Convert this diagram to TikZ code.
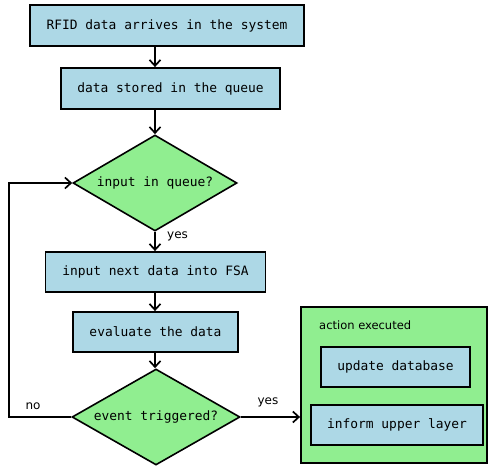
\documentclass[tikz,border=0pt]{standalone}
\usepackage{fontspec}
\setmonofont{DejaVu Sans Mono}
\setsansfont{DejaVu Sans}
\usetikzlibrary{shapes.geometric,arrows.meta}
\definecolor{stepblue}{RGB}{173,216,230}
\definecolor{decgreen}{RGB}{144,238,144}
\tikzset{
  stepbox/.style={draw=black, line width=1.8pt, fill=stepblue, inner sep=0pt,
    font=\ttfamily\fontsize{12.9}{14}\selectfont},
  decision/.style={draw=black, line width=1.6pt, fill=decgreen, shape=diamond,
    aspect=1.7, inner sep=0pt, font=\ttfamily\fontsize{12.9}{14}\selectfont},
  flow/.style={line width=1.7pt, -{Straight Barb[length=6pt,width=11pt,line width=1.7pt]}},
  lbl/.style={font=\sffamily\fontsize{12}{14}\selectfont, inner sep=0pt}
}
\begin{document}
\begin{tikzpicture}[x=1pt,y=-1pt]
  \useasboundingbox (0,0) rectangle (489,468);
  % main column
  \node[stepbox, minimum width=274pt, minimum height=41pt] (arrive) at (167,25.5) {RFID data arrives in the system};
  \node[stepbox, minimum width=219pt, minimum height=41pt] (store) at (170.5,88.5) {data stored in the queue};
  \node[decision, minimum width=164pt, minimum height=96pt] (inq) at (155,183) {input in queue?};
  \node[stepbox, minimum width=220pt, minimum height=40pt] (feed) at (155.5,272) {input next data into FSA};
  \node[stepbox, minimum width=165pt, minimum height=40pt] (eval) at (155.5,332) {evaluate the data};
  \node[decision, minimum width=168pt, minimum height=96pt] (trig) at (156,417) {event triggered?};
  % action group
  \node[draw=black, line width=1.8pt, fill=decgreen, minimum width=186pt, minimum height=156pt, inner sep=0pt] (action) at (394,385) {};
  \node[lbl, anchor=west, font=\sffamily\fontsize{11.5}{13}\selectfont] (actlbl) at (319,325) {action executed};
  \node[stepbox, minimum width=149pt, minimum height=40pt] (update) at (395.5,367) {update database};
  \node[stepbox, minimum width=172pt, minimum height=40pt] (inform) at (397,425) {inform upper layer};
  % connectors
  \draw[flow] (arrive.south -| inq.north) -- (store.north -| inq.north);
  \draw[flow] (store.south -| inq.north) -- (inq.north);
  \draw[flow] (inq.south) -- (feed.north -| inq.south);
  \draw[flow] (feed.south -| inq.south) -- (eval.north -| inq.south);
  \draw[flow] (eval.south -| inq.south) -- (trig.north -| inq.south);
  \draw[flow] (trig.west) -- ++(-62,0) |- (inq.west);
  \draw[flow] (trig.east) -- (action.west |- trig.east);
  % branch labels
  \node[lbl, anchor=west] (yes1) at (167,236) {yes};
  \node[lbl] (no) at (33,406) {no};
  \node[lbl] (yes2) at (268,402) {yes};
\end{tikzpicture}
\end{document}
